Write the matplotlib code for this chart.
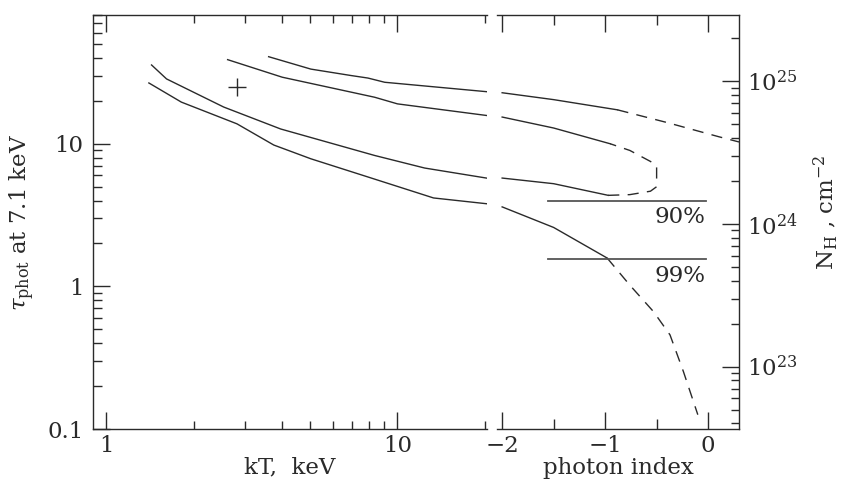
import matplotlib
matplotlib.use("Agg")
import matplotlib.pyplot as plt
from matplotlib.ticker import FixedLocator, NullFormatter, FixedFormatter, LogLocator
import numpy as np

plt.rcParams['font.family'] = ['DejaVu Serif']
plt.rcParams['mathtext.fontset'] = 'dejavuserif'

# ---------------- data ----------------
# left panel: kT (keV) vs tau
A_kT = [1.40, 1.81, 2.81, 3.76, 5.04, 7.92, 13.3, 20.2]
A_tau = [26.7, 19.6, 13.8, 9.8, 7.85, 5.85, 4.17, 3.80]
B_kT = [1.43, 1.61, 2.53, 3.97, 8.35, 12.4, 20.2]
B_tau = [35.7, 28.5, 18.1, 12.7, 8.28, 6.76, 5.75]
C_kT = [2.61, 4.02, 8.35, 10.0, 20.2]
C_tau = [38.9, 29.3, 21.2, 19.05, 15.8]
D_kT = [3.61, 5.04, 6.93, 7.92, 9.04, 20.2]
D_tau = [40.8, 33.4, 30.1, 28.9, 27.0, 23.2]

# right panel: photon index vs tau (solid parts)
A_gam = [-2.0, -1.5, -0.98]
A_gtau = [3.61, 2.59, 1.58]
B_gam = [-2.0, -1.5, -0.97]
B_gtau = [5.75, 5.25, 4.35]
C_gam = [-2.0, -1.5, -0.95]
C_gtau = [15.4, 12.9, 10.0]
D_gam = [-2.0, -1.5, -0.88]
D_gtau = [22.8, 20.4, 17.3]

# dashed continuations
A_dgam = [-0.98, -0.76, -0.53, -0.37, -0.24, -0.10]
A_dtau = [1.58, 1.02, 0.665, 0.457, 0.253, 0.126]
BC_dgam = [-0.97, -0.76, -0.56, -0.50, -0.50, -0.56, -0.76, -0.95]
BC_dtau = [4.35, 4.40, 4.65, 5.0, 7.05, 7.52, 8.98, 10.0]
D_dgam = [-0.88, -0.40, 0.105, 0.30]
D_dtau = [17.3, 14.1, 11.2, 10.3]

# confidence levels
conf_labels = ["90%", "99%"]
conf_tau = [4.0, 1.55]
conf_text_tau = [3.09, 1.19]
conf_gam = [-1.55, -0.02]

best_kT = [2.81]
best_tau = [25.2]

NH_per_tau = 3.65e23

ylo, yhi = 0.1, 80
lc = '#2a2a2a'
fs = 16.5

top_px, bot_px = 15, 429
fig = plt.figure(figsize=(8.43, 4.8), dpi=100)
ax1 = fig.add_axes([93/843, (480-bot_px)/480, (487-93)/843, (bot_px-top_px)/480])
ax2 = fig.add_axes([497/843, (480-bot_px)/480, (739-497)/843, (bot_px-top_px)/480])

for ax in (ax1, ax2):
    ax.set_yscale('log')
    ax.set_ylim(ylo, yhi)
    for s in ax.spines.values():
        s.set_linewidth(1.0)
        s.set_color(lc)

ax1.set_xscale('log')
ax1.set_xlim(0.9, 20.3)
ax2.set_xlim(-2.05, 0.3)

# curves left
for x, y in [(A_kT, A_tau), (B_kT, B_tau), (C_kT, C_tau), (D_kT, D_tau)]:
    ax1.plot(x, y, color=lc, lw=1.0)
ax1.plot(best_kT, best_tau, marker='+', ms=13, mew=1.0, color=lc, ls='none')

# curves right
for x, y in [(A_gam, A_gtau), (B_gam, B_gtau), (C_gam, C_gtau), (D_gam, D_gtau)]:
    ax2.plot(x, y, color=lc, lw=1.0)
for x, y in [(A_dgam, A_dtau), (BC_dgam, BC_dtau), (D_dgam, D_dtau)]:
    ax2.plot(x, y, color=lc, lw=1.0, dashes=(8, 6), clip_on=False)
for lab, t, tt in zip(conf_labels, conf_tau, conf_text_tau):
    ax2.plot(conf_gam, [t, t], color='#555555', lw=1.3)
    ax2.text(-0.03, tt, lab, ha='right', va='center', fontsize=fs, color=lc)

# N_H axis
ax3 = ax2.twinx()
ax3.set_yscale('log')
ax3.set_ylim(ylo*NH_per_tau, yhi*NH_per_tau)
for s in ax3.spines.values():
    s.set_visible(False)
ax3.yaxis.set_major_locator(FixedLocator([1e23, 1e24, 1e25]))
ax3.yaxis.set_major_formatter(FixedFormatter([r'$10^{23}$', r'$10^{24}$', r'$10^{25}$']))
ax3.yaxis.set_minor_locator(LogLocator(base=10, subs=np.arange(2, 10)))
ax3.yaxis.set_minor_formatter(NullFormatter())
ax3.tick_params(axis='y', which='both', direction='in', right=True, left=False,
                labelsize=fs, colors=lc, pad=6)
ax3.tick_params(axis='y', which='major', length=12, width=1.0)
ax3.tick_params(axis='y', which='minor', length=6, width=1.0)

# spines
ax1.spines['right'].set_visible(False)
ax2.spines['left'].set_visible(False)

# ticks left panel
ax1.xaxis.set_major_locator(FixedLocator([1, 10]))
ax1.xaxis.set_major_formatter(FixedFormatter(['1', '10']))
ax1.xaxis.set_minor_locator(FixedLocator([2, 3, 4, 5, 6, 7, 8, 9, 20]))
ax1.xaxis.set_minor_formatter(NullFormatter())
ax1.yaxis.set_major_locator(FixedLocator([0.1, 1, 10]))
ax1.yaxis.set_major_formatter(FixedFormatter(['0.1', '1', '10']))
ax1.yaxis.set_minor_locator(LogLocator(base=10, subs=np.arange(2, 10)))
ax1.yaxis.set_minor_formatter(NullFormatter())
ax1.tick_params(axis='x', which='both', direction='in', top=True, bottom=True,
                labelsize=fs, colors=lc, pad=4)
ax1.tick_params(axis='y', which='both', direction='in', left=True, right=False,
                labelsize=fs, colors=lc, pad=7)
ax1.tick_params(which='major', length=12, width=1.0)
ax1.tick_params(axis='x', which='minor', length=5.5, width=1.0)
ax1.tick_params(axis='y', which='minor', length=6.5, width=1.0)

# ticks right panel
ax2.xaxis.set_major_locator(FixedLocator([-2, -1, 0]))
ax2.xaxis.set_major_formatter(FixedFormatter(['\u22122', '\u22121', '0']))
ax2.xaxis.set_minor_locator(FixedLocator([-1.5, -0.5]))
ax2.tick_params(axis='x', which='both', direction='in', top=True, bottom=True,
                labelsize=fs, colors=lc, pad=4)
ax2.tick_params(axis='x', which='major', length=12, width=1.0)
ax2.tick_params(axis='x', which='minor', length=7, width=1.0)
ax2.tick_params(axis='y', which='both', left=False, right=False,
                labelleft=False, labelright=False)

# labels
ax1.set_xlabel('kT,  keV', fontsize=fs, color=lc, labelpad=0)
ax2.set_xlabel('photon index', fontsize=fs, color=lc, labelpad=0)
fig.text(22/843, 1 - 222/480, r'$\tau_{\rm phot}$ at 7.1 keV', rotation=90,
         ha='center', va='center', fontsize=fs, color=lc)
fig.text(826/843, 1 - 212/480, r'N$_{\rm H}$ , cm$^{-2}$', rotation=90,
         ha='center', va='center', fontsize=fs, color=lc)

fig.savefig('out.png', dpi=100)
